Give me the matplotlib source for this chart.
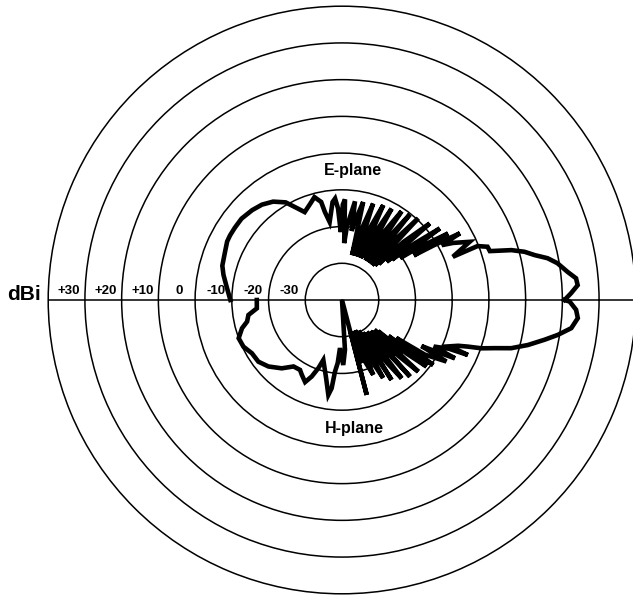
import numpy as np
import matplotlib
matplotlib.use("Agg")
import matplotlib.pyplot as plt

# ---- data (angle in degrees, gain in dBi) ----
e_theta = [180, 174, 168, 164, 158, 153, 150, 146, 141, 135, 130, 125, 120, 116, 113,
           108, 105, 102, 101, 99,
           95.5, 93.9, 92.5, 91, 89.5, 88.3, 87.8, 86.2, 82.5, 82.1, 80.5,
           77.8, 77.4, 76.3, 75.6, 74.5,
           72.1, 71.7, 70.6, 69.9, 68.8,
           66.5, 66.1, 65, 64.3, 63.2,
           61.5, 61.1, 60, 59.3, 58.2,
           56.1, 55.7, 54.6, 53.9, 52.9,
           51.6, 51.2, 50.1, 49.4, 48.4,
           47, 46.6, 45.3, 44.5, 43.4,
           41.1, 40.7, 39.6, 38.9, 37.9,
           36.2, 35.8, 34.5, 32.1, 31.8, 30.8, 29.5, 28.8, 27.2, 24.5, 21.3, 21.7,
           20.1, 18.3, 16.4, 14.8, 13.1, 11.5, 9.7, 7.1, 5.3, 3.6, 1.7, 0]
e_db = [-9.6, -8.5, -7.0, -6.1, -5.6, -4.9, -4.8, -4.8, -4.8, -5.4, -6.1, -7.3, -9.3, -12.2, -14.0,
        -12.3, -11.0, -12.7, -15.6, -18.5,
        -13.2, -12.3, -15, -21.5, -14, -12.6, -24.5, -20, -12.9, -21, -18,
        -12.7, -27.5, -20, -27, -20,
        -12.4, -27.5, -19, -27, -19,
        -11.8, -27.5, -19, -27, -18,
        -11.7, -27, -19, -27.5, -18,
        -10.9, -27, -19, -27.5, -17,
        -10.3, -27, -19, -27.5, -17,
        -9.6, -27, -20, -26, -17,
        -8.3, -24, -19, -22.5, -15,
        -7.0, -20.5, -15, -5.9, -17, -11, -3.1, -9, -6.0, -1.8, -7.6, -0.3,
        2.2, 2.4, 8.1, 11.4, 13.9, 17.1, 19.5, 21.9, 24.0, 24.3, 22.4, 20.6]

h_theta = [-180, -174.4, -170.9, -167.2, -164.2, -159.7, -154.7, -149.4, -143.6, -137.9,
           -131.4, -126.1, -121, -118.3, -114.2, -111.6, -109.1, -107.3, -101.5, -98.2,
           -96.7, -95.6, -93.9, -92.4, -88.9, -86.6, -78,
           -75.4, -75.0, -73.8, -73.0, -71.8, -70.6, -69.4,
           -67.3, -66.9, -65.7, -65.0, -63.8,
           -62.2, -61.8, -60.6, -59.9,
           -58.2, -57.8, -56.6, -55.8, -54.4,
           -52.7, -52.3, -51.1, -50.3,
           -48.4, -48.0, -46.8, -46.0, -44.6,
           -43.2, -42.8, -41.6, -40.8, -39.6,
           -38.2, -37.8, -36.6, -35.4, -35.0, -33.4, -30.5, -30.1, -28.5, -27.3,
           -26.9, -24.5, -23.6, -23.2, -21.5, -20.3, -19.1, -17.5,
           -15.9, -13.6, -11.1, -9.2, -7.0, -4.4, -2.4, -0.4, 0]
h_db = [-16.8, -16.7, -14.2, -13.5, -11.7, -10.0, -10.3, -11.5, -11.7, -13.0,
        -15.2, -17.6, -17.8, -16.9, -15.5, -17.6, -20.4, -22.9, -18.3, -13.9,
        -15.8, -20.4, -22.8, -26.9, -22.3, -26.4, -40,
        -13.3, -31, -22, -30, -22, -31, -22,
        -17.9, -31, -23, -30, -21,
        -16.0, -30.5, -22, -29,
        -14.4, -29.5, -21, -29, -19,
        -13.2, -29, -20, -28,
        -12.1, -28.5, -19, -28, -18,
        -11.5, -28, -18, -27, -17,
        -10.7, -24, -15, -9.5, -22, -13, -7, -15, -10, -5.4,
        -12, -8, -2.6, -8, -6, -3.4, 0.2, 3.6,
        7.9, 12.1, 16.2, 19.5, 22.9, 24.4, 23.8, 22.0, 20.6]

ring_values = [-30, -20, -10, 0, 10, 20, 30]
ring_labels = ["-30", "-20", "-10", "0", "+10", "+20", "+30"]

FONT = "Liberation Sans"

W, H = 633, 597
fig = plt.figure(figsize=(W / 100, H / 100), dpi=100)
cx, cy, R = 342, 300, 293.8
ax = fig.add_axes([(cx - R) / W, (H - cy - R) / H, 2 * R / W, 2 * R / H], projection="polar")
ax.set_rlim(-40, 40)
ax.set_rticks(ring_values)
ax.set_yticklabels([])
ax.set_thetagrids([0, 180], labels=["", ""])
ax.grid(True, color="black", linewidth=1.1)
ax.spines["polar"].set_color("black")
ax.spines["polar"].set_linewidth(1.1)
ax.tick_params(length=0)

ax.plot(np.deg2rad(e_theta), e_db, color="black", linewidth=3.3, solid_joinstyle="miter", zorder=5)
ax.plot(np.deg2rad(h_theta), h_db, color="black", linewidth=3.3, solid_joinstyle="miter", zorder=5)

for v, lab in zip(ring_values, ring_labels):
    ax.annotate(lab, xy=(np.pi, v + 4.3), xytext=(0, 2.5), textcoords="offset points",
                ha="center", va="bottom", fontsize=9.5, fontweight="bold", family=FONT)

fig.text(24 / W, (H - 300) / H, "dBi", ha="center", va="baseline", fontsize=15,
         fontweight="bold", family=FONT)
fig.text(353 / W, (H - 171) / H, "E-plane", ha="center", va="center", fontsize=11.5,
         fontweight="bold", family=FONT)
fig.text(354 / W, (H - 428) / H, "H-plane", ha="center", va="center", fontsize=11.5,
         fontweight="bold", family=FONT)

fig.savefig("out.png", dpi=100, facecolor="white")
